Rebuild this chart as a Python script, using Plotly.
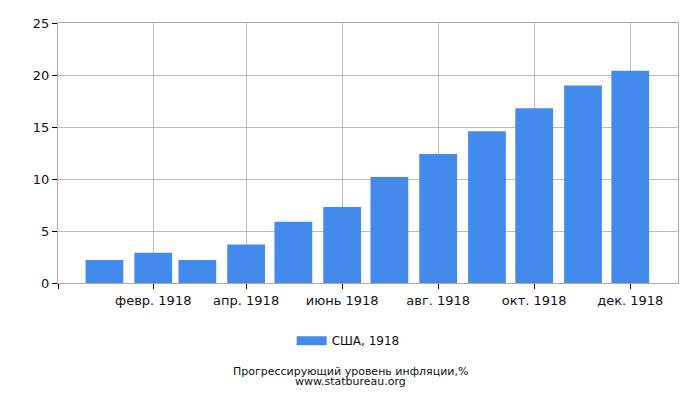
import plotly.graph_objects as go

# Прогрессирующий уровень инфляции, США 1918
meses = ["1918-01-01", "1918-02-01", "1918-03-01", "1918-04-01", "1918-05-01", "1918-06-01",
         "1918-07-01", "1918-08-01", "1918-09-01", "1918-10-01", "1918-11-01", "1918-12-01"]
inflacao = [2.2, 2.9, 2.2, 3.7, 5.9, 7.3, 10.2, 12.4, 14.6, 16.8, 19.0, 20.4]

tick_datas = ["1917-12-02 12:00", "1918-02-01", "1918-04-01", "1918-06-01", "1918-08-01", "1918-10-01", "1918-12-01"]
tick_textos = ["", "февр. 1918", "апр. 1918", "июнь 1918", "авг. 1918", "окт. 1918", "дек. 1918"]

cor = "#428bed"
dia_ms = 86400000

fig = go.Figure()
fig.add_trace(go.Bar(
    x=meses, y=inflacao, name="США, 1918", showlegend=False,
    marker=dict(color=cor, line=dict(width=0)), width=24 * dia_ms
))
# só para a legenda (retângulo largo)
fig.add_trace(go.Scatter(
    x=[None], y=[None], mode="lines", name="США, 1918",
    line=dict(color=cor, width=9)
))

# margens compensam os 8px de margem do body da página
fig.update_layout(
    width=700, height=400,
    margin=dict(l=50, r=30, t=15, b=125, autoexpand=False),
    plot_bgcolor="white", paper_bgcolor="white",
    font=dict(family="DejaVu Sans", size=13, color="#111"),
    showlegend=True,
    legend=dict(orientation="h", x=0.468, xanchor="center", y=-0.222, yanchor="middle",
                font=dict(size=12), itemwidth=30),
)
fig.update_xaxes(
    type="date", range=["1917-12-02 12:00", "1918-12-31 08:00"],
    tickvals=tick_datas, ticktext=tick_textos,
    ticks="outside", ticklen=5, tickcolor="black",
    showgrid=True, gridcolor="#bbbbbb",
    showline=True, linecolor="#aaaaaa", mirror=True
)
fig.update_yaxes(
    range=[0, 25], dtick=5,
    ticks="outside", ticklen=5, tickcolor="black",
    showgrid=True, gridcolor="#bbbbbb",
    showline=True, linecolor="#aaaaaa", mirror=True, zeroline=False
)
fig.add_annotation(
    text="Прогрессирующий уровень инфляции,%",
    xref="paper", yref="paper", x=0.471, y=-0.341, yanchor="middle",
    showarrow=False, font=dict(size=11)
)
fig.add_annotation(
    text="www.statbureau.org",
    xref="paper", yref="paper", x=0.471, y=-0.380, yanchor="middle",
    showarrow=False, font=dict(size=11)
)

fig.write_html("out.html")
